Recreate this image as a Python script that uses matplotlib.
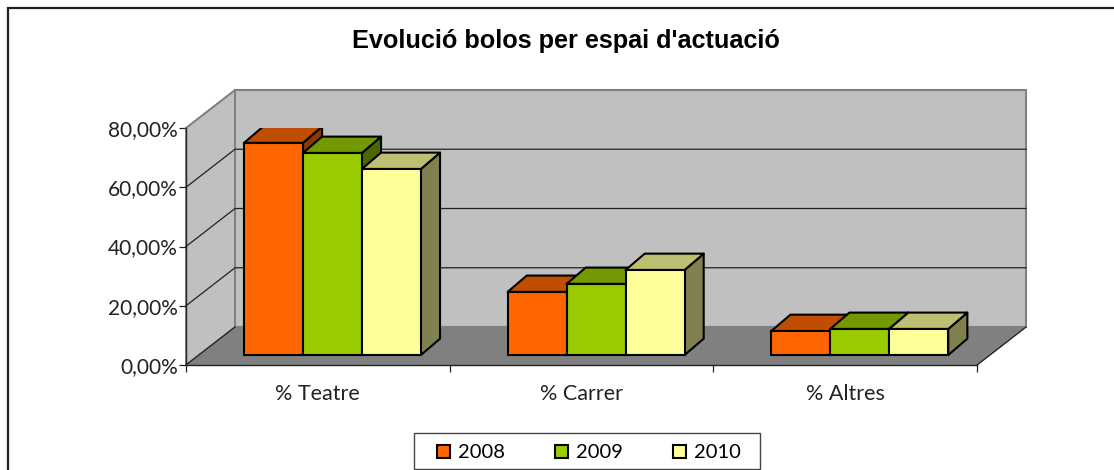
#importing libraries
import matplotlib
matplotlib.use('Agg')
import matplotlib.pyplot as plt
from matplotlib.patches import Rectangle
from matplotlib.lines import Line2D

#data
categories = ['% Teatre', '% Carrer', '% Altres']
years = ['2008', '2009', '2010']
val_2008 = [71.6, 21.3, 8.1]
val_2009 = [68.2, 24.0, 8.8]
val_2010 = [62.8, 28.7, 8.8]
y_ticks = [0, 20, 40, 60, 80]
y_labels = ['0,00%', '20,00%', '40,00%', '60,00%', '80,00%']

front_cols = ['#ff6600', '#99cc00', '#ffff99']
top_cols = ['#c04d00', '#739900', '#bfbf73']
side_cols = ['#8c3800', '#4d6600', '#808050']

W, H = 1114, 470
plt.rcParams['font.family'] = ['Lato', 'DejaVu Sans']
fig = plt.figure(figsize=(W/100, H/100), dpi=100)
fig.patch.set_facecolor('white')

#pixel box of the front of the floor: x 186-977, y 365-128
ax = fig.add_axes([186/W, 1-365/H, (977-186)/W, (365-128)/H])
ax.set_xlim(0, 3)
ax.set_ylim(0, 80)
ax.patch.set_visible(False)
for s in ['top', 'right']:
    ax.spines[s].set_visible(False)
for s in ['left', 'bottom']:
    ax.spines[s].set_color('#222222')
    ax.spines[s].set_linewidth(1.0)

#depth of the box in data units
dep_x = 49/263.67
dep_y = 38/2.9625

#walls and floor
ax.fill([0, dep_x, dep_x, 0], [0, dep_y, 80+dep_y, 80], facecolor='#c0c0c0', edgecolor='#808080', lw=1.2, clip_on=False, zorder=1)
ax.fill([dep_x, 3+dep_x, 3+dep_x, dep_x], [dep_y, dep_y, 80+dep_y, 80+dep_y], facecolor='#c0c0c0', edgecolor='#808080', lw=1.5, clip_on=False, zorder=1)
ax.fill([0, 3, 3+dep_x, dep_x], [0, 0, dep_y, dep_y], facecolor='#808080', edgecolor='#808080', lw=1, clip_on=False, zorder=1.5)
ax.plot([0, dep_x], [0, dep_y], color='#222222', lw=0.9, clip_on=False, zorder=2)
ax.plot([3, 3+dep_x], [0, dep_y], color='#222222', lw=0.9, clip_on=False, zorder=2)

#gridlines round the walls
for v in y_ticks[1:4]:
    ax.plot([0, dep_x, 3+dep_x], [v, v+dep_y, v+dep_y], color='#222222', lw=0.9, clip_on=False, zorder=2, solid_joinstyle='miter')
ax.plot([0, dep_x], [80, 80+dep_y], color='#808080', lw=1.2, clip_on=False, zorder=2)

ax.set_yticks(y_ticks)
ax.set_yticklabels(y_labels, fontsize=15, color='#222222')
ax.set_xticks([0, 1, 2, 3])
ax.set_xticklabels([])
ax.set_xticks([0.5, 1.5, 2.5], minor=True)
ax.set_xticklabels(categories, minor=True, fontsize=15.5, color='#222222')
ax.tick_params(axis='x', which='minor', length=0, pad=14)
ax.tick_params(axis='both', which='major', length=5, width=0.9, color='#222222', pad=1)

#bars, front face by ax.bar then top and side worked out from the value
bar_w = 0.2237
start = 0.171
d0_x, d0_y = dep_x*0.263, dep_y*0.263
d1_x, d1_y = dep_x*0.39, dep_y*0.43
series = [val_2008, val_2009, val_2010]
for c in range(len(categories)):
    for j in range(len(series)):
        v = series[j][c]
        x0 = c + start + d0_x + j*bar_w
        x1 = x0 + bar_w
        y0 = d0_y
        y1 = d0_y + v
        z = 3 + j*0.1
        ax.fill([x1, x1+d1_x, x1+d1_x, x1], [y0, y0+d1_y, y1+d1_y, y1], facecolor=side_cols[j], edgecolor='black', lw=1.5, zorder=z, joinstyle='round')
        ax.fill([x0, x1, x1+d1_x, x0+d1_x], [y1, y1, y1+d1_y, y1+d1_y], facecolor=top_cols[j], edgecolor='black', lw=1.5, zorder=z, joinstyle='round')
for j in range(len(series)):
    xs = [c + start + d0_x + j*bar_w for c in range(len(categories))]
    ax.bar(xs, series[j], bar_w, bottom=d0_y, align='edge', color=front_cols[j], edgecolor='black', linewidth=1.5, zorder=3.5+j*0.01)

#chart border, only left and top show in the crop
fig.add_artist(Line2D([8/W, 8/W, 1], [0, 1-8/H, 1-8/H], color='#222222', lw=1.6, solid_joinstyle='miter'))

fig.text(565.5/W, 1-41/H, "Evolució bolos per espai d'actuació", ha='center', va='center', fontsize=18.2, fontweight='bold', family=['Liberation Sans'], color='black')

#legend, box drawn apart because its padding differs sideways and upwards
fig.add_artist(Rectangle((414/W, 1-469/H), (760-414)/W, 36/H, transform=fig.transFigure, facecolor='white', edgecolor='#444444', lw=1.0))
handles = [Rectangle((0, 0), 1, 1, facecolor=front_cols[j], edgecolor='black', lw=1.5) for j in range(3)]
leg = fig.legend(handles, years, ncol=3, loc='center', bbox_to_anchor=(589/W, 1-453/H), fontsize=14.5, frameon=False, handlelength=0.62, handleheight=0.62, handletextpad=0.4, columnspacing=2.5, borderpad=0)

fig.savefig('out.png', dpi=100)
